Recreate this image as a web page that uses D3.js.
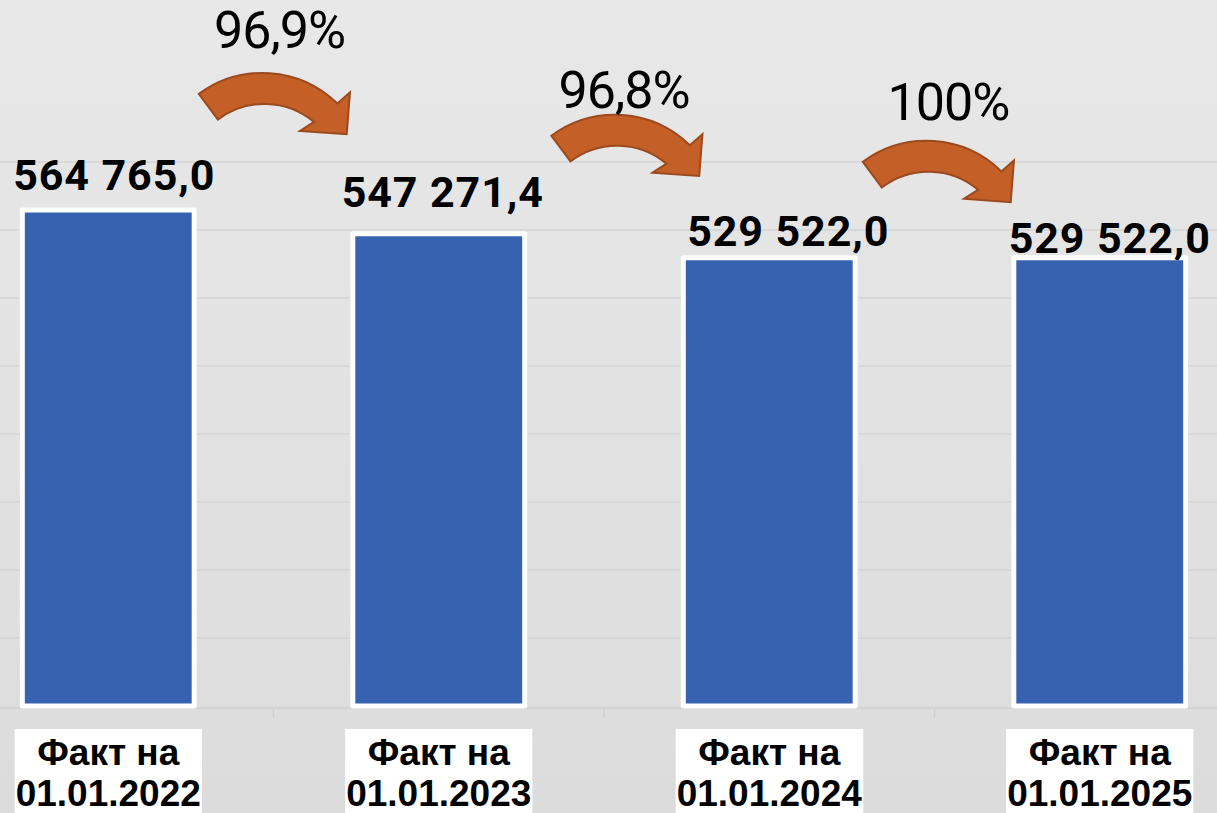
<!DOCTYPE html>
<html>
<head>
<meta charset="utf-8">
<script src="https://cdn.jsdelivr.net/npm/d3@7/dist/d3.min.js"></script>
<style>
  html, body { margin: 0; padding: 0; background: #e6e6e6; overflow: hidden; }
  svg { display: block; }
</style>
</head>
<body>
<svg id="chart" width="1217" height="813"></svg>
<script>
// ---------- data ----------
const categories = ["01.01.2022", "01.01.2023", "01.01.2024", "01.01.2025"];
const categoryPrefix = "Факт на";
const values = [564765.0, 547271.4, 529522.0, 529522.0];
const valueLabels = ["564 765,0", "547 271,4", "529 522,0", "529 522,0"];
const changeLabels = ["96,9%", "96,8%", "100%"];
const yTicks = [200000, 250000, 300000, 350000, 400000, 450000, 500000, 550000, 600000];

// ---------- layout (manual label / arrow placement, as in the original) ----------
const valueLabelOffsets = [[6, -20], [4, -27], [19, -12], [10, -5]];
const arrowOffsets = [[-11, -30], [11, -12], [-8, -10]];
const changeLabelOffsets = [[17, -132], [9, -114], [22, -128]];

const W = 1217, H = 813;
const svg = d3.select("#chart");

// background gradient
const defs = svg.append("defs");
const grad = defs.append("linearGradient").attr("id", "bg").attr("x1", 0).attr("y1", 0).attr("x2", 0).attr("y2", 1);
grad.append("stop").attr("offset", "0%").attr("stop-color", "#e8e8e8");
grad.append("stop").attr("offset", "100%").attr("stop-color", "#dcdcdc");
svg.append("rect").attr("width", W).attr("height", H).attr("fill", "url(#bg)");

// scales
const x = d3.scaleBand().domain(categories).range([-57, 1265]).paddingInner(0.48).paddingOuter(0.24);
const y = d3.scaleLinear().domain([200000, 600000]).range([706, 162]);

// gridlines
svg.append("g").selectAll("line").data(yTicks.slice(1)).join("line")
  .attr("x1", 0).attr("x2", W)
  .attr("y1", d => y(d)).attr("y2", d => y(d))
  .attr("stroke", "#d4d4d4").attr("stroke-width", 1.5);

// category axis (baseline + tick marks between categories)
const axisG = svg.append("g").attr("transform", `translate(0,${y(200000) + 2})`);
axisG.append("line").attr("x1", 0).attr("x2", W).attr("y1", 0).attr("y2", 0)
  .attr("stroke", "#cfcfcf").attr("stroke-width", 1.5);
axisG.selectAll("line.tick").data(categories.slice(1)).join("line").attr("class", "tick")
  .attr("x1", d => x(d) - x.step() * x.paddingInner() / 2)
  .attr("x2", d => x(d) - x.step() * x.paddingInner() / 2)
  .attr("y1", 0).attr("y2", 10)
  .attr("stroke", "#cfcfcf").attr("stroke-width", 1.5);

// bars
svg.append("g").selectAll("rect").data(values).join("rect")
  .attr("x", (d, i) => x(categories[i]))
  .attr("width", x.bandwidth())
  .attr("y", d => y(d))
  .attr("height", d => y(200000) - y(d))
  .attr("fill", "#3762b0")
  .attr("stroke", "#ffffff").attr("stroke-width", 5)
  .attr("stroke-linejoin", "round");

// value labels
svg.append("g").selectAll("text").data(values).join("text")
  .attr("x", (d, i) => x(categories[i]) + x.bandwidth() / 2 + valueLabelOffsets[i][0])
  .attr("y", (d, i) => y(d) + valueLabelOffsets[i][1])
  .attr("text-anchor", "middle")
  .attr("font-family", "Roboto, 'DejaVu Sans', sans-serif")
  .attr("font-weight", 700)
  .attr("font-size", 43)
  .attr("letter-spacing", 0.9)
  .attr("fill", "#000")
  .text((d, i) => valueLabels[i]);

// category labels in white boxes
const catG = svg.append("g");
categories.forEach((c, i) => {
  const cx = x(c) + x.bandwidth() / 2;
  const g = catG.append("g");
  const box = g.append("rect").attr("fill", "#ffffff");
  const t = g.append("text")
    .attr("text-anchor", "middle")
    .attr("font-family", "'Liberation Sans', Arial, sans-serif")
    .attr("font-weight", 700)
    .attr("font-size", 37)
    .attr("fill", "#000");
  t.append("tspan").attr("x", cx).attr("y", 765).text(categoryPrefix);
  t.append("tspan").attr("x", cx).attr("y", 806).text(c);
  const bb = t.node().getBBox();
  box.attr("x", bb.x - 1).attr("width", bb.width + 2).attr("y", 729).attr("height", H - 729 + 5);
});

// curved arrows between bars
const R = 107, r = 77;
const deg = Math.PI / 180;
const pol = (rad, a) => [rad * Math.cos(a * deg), rad * Math.sin(a * deg)];
function arrowPath() {
  const p0o = pol(R, -126.5), p1o = pol(R, -45.6);
  const barbU = pol(123.7, -45), tip = pol(95.8, -28.5), barbL = pol(61.7, -52.6);
  const p1i = pol(r + 0.6, -48.4), p0i = pol(r - 2, -126.5);
  return `M${p0o}` +
    `A${R},${R} 0 0 1 ${p1o}` +
    `L${barbU}L${tip}L${barbL}L${p1i}` +
    `A${r},${r} 0 0 0 ${p0i}Z`;
}
const arrowG = svg.append("g");
changeLabels.forEach((lab, i) => {
  const c0 = x(categories[i]) + x.bandwidth() / 2;
  const c1 = x(categories[i + 1]) + x.bandwidth() / 2;
  const ax = (c0 + c1) / 2 + arrowOffsets[i][0];
  const ay = y(values[i]) + arrowOffsets[i][1];
  arrowG.append("path")
    .attr("transform", `translate(${ax},${ay})`)
    .attr("d", arrowPath())
    .attr("fill", "#c45f27")
    .attr("stroke", "#9b4a1f")
    .attr("stroke-width", 2)
    .attr("stroke-linejoin", "miter");
  arrowG.append("text")
    .attr("x", ax + changeLabelOffsets[i][0])
    .attr("y", ay + changeLabelOffsets[i][1])
    .attr("text-anchor", "middle")
    .attr("font-family", "Roboto, 'DejaVu Sans', sans-serif")
    .attr("font-weight", 400)
    .attr("font-size", 52)
    .attr("letter-spacing", -1)
    .attr("fill", "#000")
    .text(lab);
});
</script>
</body>
</html>
